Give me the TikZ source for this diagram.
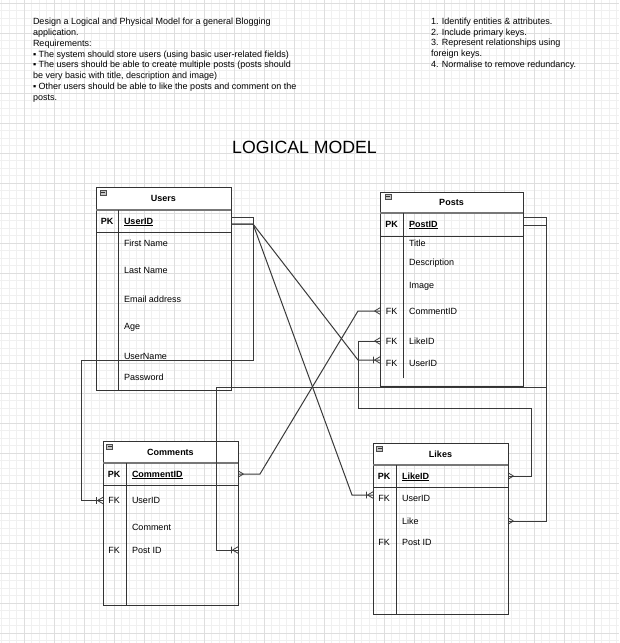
\documentclass[tikz,border=0pt]{standalone}
\usepackage{fontspec}
\setmainfont{Liberation Sans}
\usetikzlibrary{decorations.markings,calc}
\definecolor{gridminor}{HTML}{F0F0F0}
\definecolor{gridmajor}{HTML}{DEDEDE}
\definecolor{edge}{HTML}{3A3A3A}
\definecolor{boxline}{HTML}{333333}
\definecolor{hdrsepc}{HTML}{777777}
\tikzset{
  fnt/.style={font=\fontsize{9}{10.8}\selectfont},
  field/.style={fnt, anchor=west, inner sep=0pt, outer sep=0pt, text height=6.4pt, text depth=0pt},
  keyc/.style={fnt, anchor=center, inner sep=0pt, outer sep=0pt, text height=6.4pt, text depth=0pt},
  hdr/.style={anchor=north west, inner sep=0pt, outer sep=0pt, fill=white, draw=boxline, line width=1pt,
     font=\fontsize{9}{10.8}\selectfont\bfseries, text height=6.4pt, text depth=0pt},
  ebox/.style={anchor=north west, inner sep=0pt, outer sep=0pt, draw=boxline, line width=1pt},
  rowline/.style={draw=boxline, line width=1pt},
  hdrsep/.style={draw=hdrsepc, line width=1.6pt},
  icon/.style={inner sep=0pt, minimum width=6pt, minimum height=5pt, fill=gray!45, draw=gray!60!black, line width=0.5pt,
     path picture={\draw[black!80, line width=0.7pt] ([xshift=1.2pt]path picture bounding box.west) -- ([xshift=-1.2pt]path picture bounding box.east);}},
  conn/.style={draw=edge, line width=1pt},
  crowend/.style={postaction={decorate,decoration={markings,mark=at position 1 with
     {\draw[edge,line width=0.8pt] (-5.5pt,0) -- (0,3.2pt) (-5.5pt,0) -- (0,-3.2pt);}}}},
  barcrowend/.style={postaction={decorate,decoration={markings,mark=at position 1 with
     {\draw[edge,line width=0.8pt] (-5.5pt,0) -- (0,3.2pt) (-5.5pt,0) -- (0,-3.2pt) (-6.5pt,3.4pt) -- (-6.5pt,-3.4pt);}}}},
  crowstart/.style={postaction={decorate,decoration={markings,mark=at position 0 with
     {\draw[edge,line width=0.8pt] (5.5pt,0) -- (0,3.2pt) (5.5pt,0) -- (0,-3.2pt);}}}},
}
\begin{document}
\begin{tikzpicture}[x=1pt,y=-1pt]
\useasboundingbox (0,0) rectangle (619,643);
\fill[white] (0,0) rectangle (619,643);
% grid
\foreach \x in {1.5,9,...,618} \draw[gridminor,line width=0.7pt] (\x,0) -- (\x,643);
\foreach \y in {3,10.5,...,642} \draw[gridminor,line width=0.7pt] (0,\y) -- (619,\y);
\foreach \x in {24,54,...,618} \draw[gridmajor,line width=0.8pt] (\x,0) -- (\x,643);
\foreach \y in {3,33,...,642} \draw[gridmajor,line width=0.8pt] (0,\y) -- (619,\y);

% requirement text
\node[field] (req1) at (33,21.5) {Design a Logical and Physical Model for a general Blogging};
\node[field] (req2) at (33,32.3) {application.};
\node[field] (req3) at (33,43.0) {Requirements:};
\node[field] (req4) at (33,53.8) {▪ The system should store users (using basic user-related fields)};
\node[field] (req5) at (33,64.5) {▪ The users should be able to create multiple posts (posts should};
\node[field] (req6) at (33,75.3) {be very basic with title, description and image)};
\node[field] (req7) at (33,86.0) {▪ Other users should be able to like the posts and comment on the};
\node[field] (req8) at (33,96.8) {posts.};

\node[field] (step1) at (431,21.0) {1. Identify entities \& attributes.};
\node[field] (step2) at (431,31.8) {2. Include primary keys.};
\node[field] (step3) at (431,42.5) {3. Represent relationships using};
\node[field] (step4) at (431,53.3) {foreign keys.};
\node[field] (step5) at (431,64.0) {4. Normalise to remove redundancy.};

\node[anchor=center, inner sep=0pt, font=\fontsize{17.7}{20}\selectfont, text height=12.7pt, text depth=0pt] (title) at (304.5,146.7) {LOGICAL MODEL};

% ---------- Users ----------
\node[hdr, minimum width=135pt, minimum height=23pt] (usersH) at (96,187) {Users};
\node[ebox, minimum width=135pt, minimum height=203pt] (users) at (96,187) {};
\draw[hdrsep] (usersH.south west) -- (usersH.south east);
\draw[rowline] (96,232) -- (231,232);
\draw[rowline] (118,210) -- (118,390);
\node[icon] (usersI) at (103,192.5) {};
\node[keyc] (uPK) at (107,221) {\textbf{PK}};
\node[field] (uUserID) at (124,221) {\underline{\textbf{UserID}}};
\node[field] (uFirst) at (124,243) {First Name};
\node[field] (uLast) at (124,270) {Last Name};
\node[field] (uEmail) at (124,299) {Email address};
\node[field] (uAge) at (124,326) {Age};
\node[field] (uUserName) at (124,356) {UserName};
\node[field] (uPassword) at (124,377) {Password};

% ---------- Posts ----------
\node[hdr, minimum width=143pt, minimum height=21pt] (postsH) at (380,192) {Posts};
\node[ebox, minimum width=143pt, minimum height=194pt] (posts) at (380,192) {};
\draw[hdrsep] (postsH.south west) -- (postsH.south east);
\draw[rowline] (380,236) -- (523,236);
\draw[rowline] (403,213) -- (403,378);
\node[icon] (postsI) at (388,196.7) {};
\node[keyc] (pPK) at (391.5,224) {\textbf{PK}};
\node[field] (pPostID) at (409,224) {\underline{\textbf{PostID}}};
\node[field] (pTitle) at (409,243) {Title};
\node[field] (pDesc) at (409,262) {Description};
\node[field] (pImage) at (409,285) {Image};
\node[keyc] (pFK1) at (391.5,311) {FK};
\node[field] (pCommentID) at (409,311) {CommentID};
\node[keyc] (pFK2) at (391.5,341) {FK};
\node[field] (pLikeID) at (409,341) {LikeID};
\node[keyc] (pFK3) at (391.5,363) {FK};
\node[field] (pUserID) at (409,363) {UserID};

% ---------- Comments ----------
\node[hdr, minimum width=135pt, minimum height=22pt] (commentsH) at (103,441) {Comments};
\node[ebox, minimum width=135pt, minimum height=164pt] (comments) at (103,441) {};
\draw[hdrsep] (commentsH.south west) -- (commentsH.south east);
\draw[rowline] (103,485) -- (238,485);
\draw[rowline] (126,463) -- (126,605);
\node[icon] (commentsI) at (109.7,446.7) {};
\node[keyc] (cPK) at (114,474) {\textbf{PK}};
\node[field] (cCommentID) at (132,474) {\underline{\textbf{CommentID}}};
\node[keyc] (cFK1) at (114,500.5) {FK};
\node[field] (cUserID) at (132,500.5) {UserID};
\node[field] (cComment) at (132,527) {Comment};
\node[keyc] (cFK2) at (114,550) {FK};
\node[field] (cPostID) at (132,550) {Post ID};

% ---------- Likes ----------
\node[hdr, minimum width=135pt, minimum height=22pt] (likesH) at (373,443) {Likes};
\node[ebox, minimum width=135pt, minimum height=171pt] (likes) at (373,443) {};
\draw[hdrsep] (likesH.south west) -- (likesH.south east);
\draw[rowline] (373,487) -- (508,487);
\draw[rowline] (396,465) -- (396,614);
\node[icon] (likesI) at (379.7,448.7) {};
\node[keyc] (lPK) at (384,476) {\textbf{PK}};
\node[field] (lLikeID) at (402,476) {\underline{\textbf{LikeID}}};
\node[keyc] (lFK1) at (384,498) {FK};
\node[field] (lUserID) at (402,498) {UserID};
\node[field] (lLike) at (402,521) {Like};
\node[keyc] (lFK2) at (384,542) {FK};
\node[field] (lPostID) at (402,542) {Post ID};

% ---------- connectors ----------
% Users.UserID -> Comments.UserID
\draw[conn, barcrowend] ($(users.east |- uUserID)+(0,-4)$) -| (253,360) -- (81,360) |- (comments.west |- cUserID);
% Users.UserID -> Posts.UserID
\draw[conn, barcrowend] ($(users.east |- uUserID)+(0,3)$) -- (253,224) -- (358,360) -- ($(posts.west |- pUserID)+(0,-3)$);
% Users.UserID -> Likes.UserID
\draw[conn, barcrowend] ($(users.east |- uUserID)+(0,3)$) -- (253,224) -- (352,495) -- ($(likes.west |- lUserID)+(0,-3)$);
% Comments.CommentID -> Posts.CommentID
\draw[conn, crowstart, crowend] (comments.east |- cCommentID) -- (260,474) -- (358,311) -- (posts.west |- pCommentID);
% Posts.LikeID -> Likes.LikeID
\draw[conn, crowstart, crowend] (posts.west |- pLikeID) -- (358,341) -- (358,408) -- (531,408) |- (likes.east |- lLikeID);
% Posts.PostID -> Comments.PostID
\draw[conn, barcrowend] ($(posts.east |- pPostID)+(0,-7)$) -- (546,217) -- (546,387) -- (216,387) |- (comments.east |- cPostID);
% Posts.PostID -> Likes.Like
\draw[conn, crowend] ($(posts.east |- pPostID)+(0,1)$) -- (546,225) -- (546,521) -- (likes.east |- lLike);
\end{tikzpicture}
\end{document}
